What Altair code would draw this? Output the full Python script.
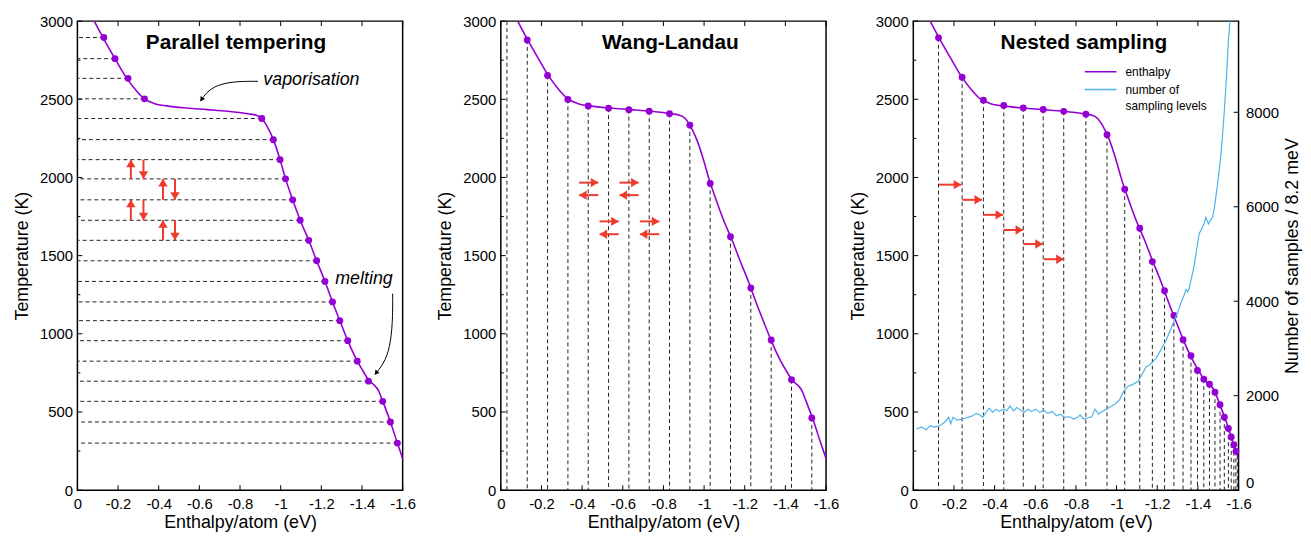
import altair as alt
import pandas as pd

FONT = "Liberation Sans"
W, H = 328, 473
PURPLE = "#9400d3"
BLUE = "#4fb3e8"
RED = "#ee3b2d"
DASH = [4, 3]

# ---------------- axis ticks ----------------
x_ticks = [0, -0.2, -0.4, -0.6, -0.8, -1.0, -1.2, -1.4, -1.6]
y_ticks = [0, 500, 1000, 1500, 2000, 2500, 3000]
y_minor_ticks = [250, 750, 1250, 1750, 2250, 2750]
n_ticks = [0, 2000, 4000, 6000, 8000]

# ---------------- shared enthalpy curve ----------------
curve_h = [-0.083, -0.128, -0.185, -0.240, -0.290, -0.330, -0.380, -0.440, -0.540, -0.640,
           -0.740, -0.840, -0.880, -0.907, -0.932, -0.964, -0.997, -1.024, -1.059, -1.096,
           -1.138, -1.177, -1.218, -1.255, -1.291, -1.330, -1.377, -1.405, -1.432, -1.460,
           -1.480, -1.502, -1.540, -1.574, -1.602]
curve_T = [3000, 2890, 2760, 2640, 2555, 2502, 2472, 2458, 2444, 2434,
           2423, 2407, 2398, 2377, 2330, 2242, 2114, 1991, 1857, 1726,
           1598, 1467, 1335, 1204, 1084, 956, 825, 762, 705, 672,
           640, 568, 436, 301, 195]

# ---------------- parallel tempering ----------------
pt_h = [-0.130, -0.185, -0.249, -0.330, -0.907, -0.964, -0.997, -1.024, -1.059, -1.096,
        -1.138, -1.177, -1.218, -1.255, -1.291, -1.330, -1.377, -1.432, -1.502, -1.540, -1.574]
pt_T = [2895, 2760, 2634, 2503, 2377, 2242, 2114, 1991, 1857, 1726,
        1598, 1467, 1335, 1204, 1084, 956, 825, 697, 568, 436, 301]
pt_arrow_h = [-0.263, -0.325, -0.421, -0.480, -0.263, -0.325, -0.421, -0.480]
pt_arrow_from = [1991, 2114, 1857, 1991, 1726, 1857, 1598, 1726]
pt_arrow_to = [2114, 1991, 1991, 1857, 1857, 1726, 1726, 1598]
pt_arrow_dir = ["up", "down", "up", "down", "up", "down", "up", "down"]
vap_h = [-0.888, -0.761, -0.668, -0.624, -0.605]
vap_T = [2615, 2615, 2583, 2526, 2488]
melt_h = [-1.551, -1.551, -1.537, -1.507, -1.463]
melt_T = [1257, 1067, 909, 808, 739]

# ---------------- Wang-Landau ----------------
wl_h = [-0.03, -0.13, -0.23, -0.33, -0.43, -0.53, -0.63, -0.73, -0.83, -0.93,
        -1.03, -1.13, -1.23, -1.33, -1.43, -1.53]
wl_T = [3000, 2879, 2652, 2499, 2457, 2443, 2433, 2424, 2408, 2335,
        1962, 1621, 1293, 960, 706, 462]
wl_arrow_from = [-0.385, -0.480, -0.584, -0.678, -0.486, -0.580, -0.684, -0.780]
wl_arrow_to = [-0.480, -0.385, -0.678, -0.584, -0.580, -0.486, -0.780, -0.684]
wl_arrow_T = [1967, 1887, 1967, 1887, 1719, 1637, 1719, 1637]
wl_arrow_dir = ["right", "left", "right", "left", "right", "left", "right", "left"]

# ---------------- nested sampling ----------------
ns_h = [-0.124, -0.240, -0.345, -0.445, -0.541, -0.639, -0.740, -0.849, -0.953, -1.040,
        -1.114, -1.176, -1.236, -1.282, -1.327, -1.366, -1.398, -1.429, -1.457, -1.484,
        -1.509, -1.530, -1.550, -1.564, -1.577, -1.587]
ns_T = [2893, 2641, 2494, 2460, 2445, 2435, 2423, 2404, 2273, 1925,
        1675, 1462, 1275, 1117, 962, 860, 765, 710, 677, 626,
        546, 466, 395, 340, 290, 248]
ns_extra_h = [-1.594]
ns_extra_T = [222]
ns_arrow_from = [-0.127, -0.241, -0.343, -0.444, -0.541, -0.642]
ns_arrow_to = [-0.236, -0.338, -0.442, -0.540, -0.637, -0.740]
ns_arrow_T = [1954, 1857, 1761, 1664, 1574, 1477]

count_h = [-0.016, -0.041, -0.065, -0.082, -0.106, -0.130, -0.155, -0.174, -0.184, -0.195,
           -0.216, -0.244, -0.268, -0.293, -0.309, -0.325, -0.341, -0.357, -0.374, -0.390,
           -0.406, -0.423, -0.444, -0.460, -0.476, -0.493, -0.509, -0.528, -0.545, -0.564,
           -0.580, -0.602, -0.623, -0.642, -0.662, -0.683, -0.704, -0.724, -0.743, -0.769,
           -0.789, -0.808, -0.821, -0.838, -0.857, -0.878, -0.894, -0.911, -0.935, -0.951,
           -0.975, -0.995, -1.016, -1.030, -1.045, -1.057, -1.080, -1.106, -1.125, -1.146,
           -1.160, -1.179, -1.195, -1.211, -1.228, -1.244, -1.256, -1.268, -1.280, -1.293,
           -1.305, -1.317, -1.330, -1.341, -1.350, -1.358, -1.366, -1.374, -1.382, -1.394,
           -1.406, -1.415, -1.423, -1.431, -1.439, -1.446, -1.452, -1.460, -1.472, -1.480,
           -1.488, -1.496, -1.504, -1.512, -1.520, -1.528, -1.537, -1.544, -1.550, -1.558,
           -1.566]
count_N = [1298, 1333, 1277, 1367, 1333, 1367, 1438, 1542, 1402, 1542,
           1485, 1506, 1542, 1575, 1625, 1596, 1542, 1646, 1735, 1646,
           1715, 1667, 1715, 1679, 1783, 1679, 1750, 1694, 1646, 1715,
           1667, 1715, 1646, 1694, 1625, 1667, 1575, 1610, 1542, 1554,
           1506, 1542, 1596, 1506, 1527, 1554, 1715, 1610, 1679, 1715,
           1780, 1830, 1923, 2060, 2150, 2200, 2240, 2304, 2450, 2617,
           2640, 2721, 2800, 2917, 3050, 3173, 3300, 3417, 3560, 3694,
           3820, 3971, 4100, 4250, 4200, 4283, 4450, 4596, 4771, 5100,
           5429, 5500, 5569, 5650, 5777, 5700, 5638, 5700, 5777, 5950,
           6194, 6450, 6750, 7050, 7444, 7900, 8485, 9000, 9527, 9944,
           10500]

# ---------------- encodings ----------------
X_SCALE = alt.Scale(domain=[-1.6, 0], reverse=True, nice=False, zero=False)
Y_SCALE = alt.Scale(domain=[0, 3000], nice=False, zero=False)
LABEL_EXPR = "replace(format(datum.value, '.1~f'), '\u2212', '-')"


def X(field="h"):
    return alt.X(f"{field}:Q", scale=X_SCALE, title="Enthalpy/atom (eV)",
                 axis=alt.Axis(values=x_ticks, labelExpr=LABEL_EXPR, labelFlush=False,
                               labelPadding=7, titlePadding=2))


def Y(field="T"):
    return alt.Y(f"{field}:Q", scale=Y_SCALE, title="Temperature (K)",
                 axis=alt.Axis(values=y_ticks, format="d", labelFlush=False, labelPadding=5,
                               titlePadding=8))


def frame_ticks():
    bx = pd.DataFrame({"h": x_ticks})
    ly = pd.DataFrame({"T": y_ticks})
    lm = pd.DataFrame({"T": y_minor_ticks})
    r = dict(color="black", strokeWidth=1)
    return [
        alt.Chart(bx).mark_rule(**r).encode(x=X(), y=alt.value(H), y2=alt.value(H - 5)),
        alt.Chart(bx).mark_rule(**r).encode(x=X(), y=alt.value(0), y2=alt.value(5)),
        alt.Chart(ly).mark_rule(**r).encode(y=Y(), x=alt.value(0), x2=alt.value(5)),
        alt.Chart(lm).mark_rule(**r).encode(y=Y(), x=alt.value(0), x2=alt.value(3)),
    ]


curve_df = pd.DataFrame({"h": curve_h, "T": curve_T, "i": list(range(len(curve_h)))})


def curve():
    return alt.Chart(curve_df).mark_line(color=PURPLE, strokeWidth=1.6, interpolate="monotone",
                                         clip=True).encode(x=X(), y=Y(), order="i:Q")


def dots(df):
    return alt.Chart(df).mark_circle(size=48, color=PURPLE, opacity=1).encode(x=X(), y=Y())


ARROW_SHAPES = alt.Scale(domain=["up", "down", "left", "right"],
                         range=["M0,0L-1,1.6L1,1.6Z", "M0,0L-1,-1.6L1,-1.6Z",
                                "M0,0L1.6,-1L1.6,1Z", "M0,0L-1.6,-1L-1.6,1Z"])


def arrows(df):
    shaft = alt.Chart(df).mark_rule(color=RED, strokeWidth=2).encode(
        x=X("h"), x2="h2:Q", y=Y("T"), y2="T2:Q")
    head = alt.Chart(df).mark_point(filled=True, color=RED, opacity=1, size=90, strokeWidth=0).encode(
        x=X("h2"), y=Y("T2"), shape=alt.Shape("dir:N", scale=ARROW_SHAPES, legend=None))
    return [shaft, head]


def label(text, x, y, size, weight="normal", style="normal", align="center"):
    return alt.Chart(pd.DataFrame({"label": [text]})).mark_text(
        font=FONT, fontSize=size, fontWeight=weight, fontStyle=style, align=align,
        baseline="middle", color="black").encode(x=alt.value(x), y=alt.value(y), text="label:N")


def curved_arrow(hs, Ts, angle):
    df = pd.DataFrame({"h": hs, "T": Ts, "i": list(range(len(hs)))})
    line = alt.Chart(df).mark_line(color="black", strokeWidth=1, interpolate="basis").encode(
        x=X(), y=Y(), order="i:Q")
    tip = pd.DataFrame({"h": [hs[-1]], "T": [Ts[-1]]})
    head = alt.Chart(tip).mark_point(shape="M0,0L-1,1.6L1,1.6Z", filled=True, color="black",
                                     opacity=1, size=30, angle=angle, strokeWidth=0).encode(x=X(), y=Y())
    return [line, head]


# ---------------- panel 1 ----------------
pt_df = pd.DataFrame({"h": pt_h, "T": pt_T})
pt_lines = alt.Chart(pt_df).mark_rule(color="#222222", strokeWidth=1, strokeDash=DASH).encode(
    x=X(), x2=alt.value(0), y=Y())
pt_arr = pd.DataFrame({"h": pt_arrow_h, "h2": pt_arrow_h, "T": pt_arrow_from,
                       "T2": pt_arrow_to, "dir": pt_arrow_dir})
p1 = alt.layer(
    *frame_ticks(), pt_lines, curve(), dots(pt_df), *arrows(pt_arr),
    *curved_arrow(vap_h, vap_T, 214), *curved_arrow(melt_h, melt_T, 219),
    label("Parallel tempering", 160, 22, 21, weight="bold"),
    label("vaporisation", 236, 59, 18, style="italic"),
    label("melting", 289, 260, 18, style="italic"),
).properties(width=W, height=H)

# ---------------- panel 2 ----------------
wl_df = pd.DataFrame({"h": wl_h, "T": wl_T})
wl_lines = alt.Chart(wl_df).mark_rule(color="#222222", strokeWidth=1, strokeDash=DASH).encode(
    x=X(), y=Y(), y2=alt.value(H))
wl_dots = dots(wl_df).transform_filter("datum.T < 3000")
wl_arr = pd.DataFrame({"h": wl_arrow_from, "h2": wl_arrow_to, "T": wl_arrow_T,
                       "T2": wl_arrow_T, "dir": wl_arrow_dir})
p2 = alt.layer(
    *frame_ticks(), wl_lines, curve(), wl_dots, *arrows(wl_arr),
    label("Wang-Landau", 171, 22, 21, weight="bold"),
).properties(width=W, height=H)

# ---------------- panel 3 ----------------
ns_df = pd.DataFrame({"h": ns_h, "T": ns_T})
ns_line_df = pd.DataFrame({"h": ns_h + ns_extra_h, "T": ns_T + ns_extra_T})
ns_lines = alt.Chart(ns_line_df).mark_rule(color="#222222", strokeWidth=1, strokeDash=DASH).encode(
    x=X(), y=Y(), y2=alt.value(H))
ns_arr = pd.DataFrame({"h": ns_arrow_from, "h2": ns_arrow_to, "T": ns_arrow_T,
                       "T2": ns_arrow_T, "dir": ["right"] * len(ns_arrow_T)})
one = pd.DataFrame({"a": [0]})
legend_layers = [
    alt.Chart(one).mark_rule(color=PURPLE, strokeWidth=1.6).encode(
        x=alt.value(173), x2=alt.value(205), y=alt.value(51)),
    alt.Chart(one).mark_rule(color=BLUE, strokeWidth=1.6).encode(
        x=alt.value(173), x2=alt.value(205), y=alt.value(69)),
    label("enthalpy", 214, 51, 12, align="left"),
    label("number of", 214, 69, 12, align="left"),
    label("sampling levels", 214, 86, 12, align="left"),
]
p3_left = alt.layer(
    *frame_ticks(), ns_lines, curve(), dots(ns_df), *arrows(ns_arr),
    label("Nested sampling", 172, 22, 21, weight="bold"), *legend_layers,
)

N_SCALE = alt.Scale(domain=[0, 9930], nice=False, zero=False)


def N():
    return alt.Y("N:Q", scale=N_SCALE, title="Number of samples / 8.2 meV",
                 axis=alt.Axis(orient="right", values=n_ticks, format="d", labelFlush=True,
                               labelPadding=7, titlePadding=5, titleAngle=270,
                               titleBaseline="top"))


count_df = pd.DataFrame({"h": count_h, "N": count_N})
count_line = alt.Chart(count_df).mark_line(color=BLUE, strokeWidth=1.2, clip=True).encode(
    x=X(), y=N(), order=alt.Order("h:Q", sort="descending"))
right_ticks = alt.Chart(pd.DataFrame({"N": n_ticks})).mark_rule(color="black", strokeWidth=1).encode(
    y=N(), x=alt.value(W), x2=alt.value(W - 5))
p3_right = alt.layer(count_line, right_ticks)
p3 = alt.layer(p3_left, p3_right).resolve_scale(y="independent").properties(width=W, height=H)

chart = alt.hconcat(alt.hconcat(p1, p2, spacing=19), p3, spacing=8).properties(
    padding={"left": 4, "top": 3, "right": 0, "bottom": 0}
).configure(font=FONT).configure_view(stroke="black", strokeWidth=1.5).configure_axis(
    domain=False, ticks=False, grid=False, labelFont=FONT, titleFont=FONT, labelFontSize=15,
    titleFontSize=18, titleFontWeight="normal", labelColor="black", titleColor="black")

chart.save("out.html", embed_options={"renderer": "svg", "actions": False})
